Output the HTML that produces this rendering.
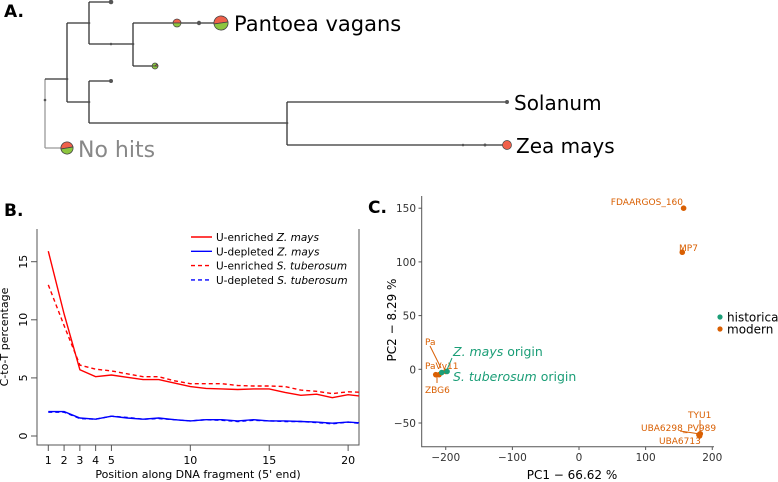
<!DOCTYPE html>
<html><head><meta charset="utf-8">
<style>
html,body{margin:0;padding:0;background:#fff;}
svg{display:block;font-family:"DejaVu Sans","Liberation Sans",sans-serif;}
</style></head>
<body>
<svg width="778" height="482" viewBox="0 0 778 482" xmlns="http://www.w3.org/2000/svg">
<!-- Panel A: tree -->
<g>
<text x="4" y="17" font-size="17" font-weight="bold">A.</text>
<g stroke="#333" stroke-width="1.3" fill="none">
<path d="M45 79 V148" stroke="#999"/>
<path d="M45 148 H67" stroke="#999"/>
<path d="M45 79 H67 M67 23 V102 M67 23 H89 M89 2 V44 M89 2 H111 M89 44 H133 M133 23 V66 M133 23 H221 M133 66 H155 M67 102 H89 M89 81 V123 M89 81 H111 M89 123 H287 M287 102 V145 M287 102 H507 M287 145 H507"/>
</g>
<g fill="#555">
<circle cx="45" cy="100" r="1.3"/><circle cx="67" cy="79" r="1.3"/><circle cx="89" cy="23" r="1.3"/>
<circle cx="111" cy="2" r="2.3"/><circle cx="111" cy="44" r="1.3"/><circle cx="133" cy="44" r="1.3"/>
<circle cx="199" cy="23" r="2.2"/><circle cx="89" cy="102" r="1.3"/><circle cx="111" cy="81" r="2"/>
<circle cx="287" cy="123" r="1.3"/><circle cx="507" cy="102" r="2"/><circle cx="463" cy="145" r="1.3"/><circle cx="485" cy="145" r="1.5"/>
</g>
<g stroke="#444" stroke-width="0.8">
<path d="M214 24 A7 7 0 0 1 228 22 Z" fill="#f0604a"/><path d="M214 24 A7 7 0 0 0 228 22 Z" fill="#8dc63f"/>
</g>
<g stroke="#444" stroke-width="0.7">
<path d="M173 23 A4 4 0 0 1 181 23 Z" fill="#f0604a"/><path d="M173 23 A4 4 0 0 0 181 23 Z" fill="#8dc63f"/>
</g>
<g stroke="#444" stroke-width="0.7">
<path d="M152 66 A3 3 0 0 1 158 66 Z" fill="#8dc63f"/><path d="M152 66 A3 3 0 0 0 158 66 Z" fill="#8dc63f"/><path d="M155 66 L157 64 A3 3 0 0 1 158 66Z" fill="#f0604a"/>
</g>
<circle cx="507" cy="145" r="4.5" fill="#f0604a" stroke="#444" stroke-width="0.7"/>
<g stroke="#444" stroke-width="0.8">
<path d="M61 149 A6 6 0 0 1 73 147 Z" fill="#f0604a"/><path d="M61 149 A6 6 0 0 0 73 147 Z" fill="#8dc63f"/>
</g>
<text x="234" y="31" font-size="21" fill="#000">Pantoea vagans</text>
<text x="514" y="110" font-size="20" fill="#000">Solanum</text>
<text x="516" y="153" font-size="20" fill="#000">Zea mays</text>
<text x="78" y="157" font-size="22" fill="#888">No hits</text>
</g>

<!-- Panel B -->
<g id="panelB">
<text x="4" y="216" font-size="17" font-weight="bold">B.</text>
</g>
<!-- Panel C -->
<g id="panelC">
<text x="368" y="213" font-size="17" font-weight="bold">C.</text>
</g>
</svg>
<script>
// ---- Panel B data ----
const positions = [1,2,3,4,5,6,7,8,9,10,11,12,13,14,15,16,17,18,19,20,21];
const redSolid = [15.9,10.5,5.7,5.1,5.25,5.05,4.85,4.85,4.55,4.25,4.1,4.05,4.0,4.05,4.05,3.75,3.5,3.6,3.3,3.55,3.4];
const redDashed = [13.0,9.5,6.1,5.75,5.6,5.35,5.1,5.1,4.75,4.5,4.5,4.5,4.35,4.3,4.3,4.25,3.95,3.85,3.65,3.8,3.75];
const blueSolid = [2.1,2.1,1.55,1.45,1.7,1.55,1.45,1.55,1.4,1.3,1.4,1.4,1.3,1.4,1.3,1.3,1.25,1.2,1.1,1.2,1.1];
const blueDashed = [2.05,2.05,1.5,1.45,1.7,1.6,1.45,1.5,1.4,1.3,1.4,1.35,1.25,1.35,1.3,1.25,1.25,1.15,1.05,1.2,1.05];
const bXTicks = [1,2,3,4,5,10,15,20];
const bYTicks = [0,5,10,15];
// ---- Panel C data ----
const pcaLabels = ["FDAARGOS_160","MP7","Pa","PaVv11","ZBG6","TYU1","UBA6298_PV989","UBA6713"];
const pcaPC1 = [157,155,-215,-210,-200,182,180,181];
const pcaPC2 = [150,109,-5,-5,-2,-60,-61,-62];
const histLabels = ["Z. mays origin","S. tuberosum origin"];
const histPC1 = [-206,-198];
const histPC2 = [-3,-2];
const cXTicks = [-200,-100,0,100,200];
const cYTicks = [-50,0,50,100,150];

const NS="http://www.w3.org/2000/svg";
function mk(parent,tag,attrs,text){const e=document.createElementNS(NS,tag);for(const k in attrs)e.setAttribute(k,attrs[k]);if(text!==undefined)e.textContent=text;parent.appendChild(e);return e;}

// Panel B
const gB=document.getElementById('panelB');
const bx=p=>48.3+(p-1)*15.78;
const by=v=>436-v*11.62;
const defs=mk(gB,'defs',{});
const cp=mk(defs,'clipPath',{id:'clipB'});
mk(cp,'rect',{x:37,y:229,width:322,height:216});
let e;
e=mk(gB,'path',{d:'M37 229 V445 H359 V229',fill:'none',stroke:'#555','stroke-width':1});


bXTicks.forEach(t=>{
  e=mk(gB,'line',{x1:bx(t),x2:bx(t),y1:445,y2:451,stroke:'#555'});
  
  
  e=mk(gB,'text',{x:bx(t),y:464,'font-size':11,'text-anchor':'middle'},t);
  
  
});
bYTicks.forEach(t=>{
  e=mk(gB,'line',{x1:31,x2:37,y1:by(t),y2:by(t),stroke:'#555'});
  
  
  e=mk(gB,'text',{x:0,y:0,'font-size':11,'text-anchor':'middle',transform:`translate(27 ${by(t)}) rotate(-90)`},t);
  
  
});
e=mk(gB,'text',{x:198,y:478,'font-size':11,'text-anchor':'middle'},"Position along DNA fragment (5' end)");


e=mk(gB,'text',{x:0,y:0,'font-size':11,'text-anchor':'middle',transform:'translate(8 337) rotate(-90)'},'C-to-T percentage');


const seriesB=[[redSolid,'red',null,'line-u-enriched-z-mays'],[redDashed,'red','4 3','line-u-enriched-s-tuberosum'],[blueSolid,'blue',null,'line-u-depleted-z-mays'],[blueDashed,'blue','4 3','line-u-depleted-s-tuberosum']];
seriesB.forEach(s=>{
  const pts=s[0].map((v,i)=>bx(positions[i]).toFixed(1)+','+by(v).toFixed(1)).join(' ');
  const a={points:pts,fill:'none',stroke:s[1],'stroke-width':1.4,'clip-path':'url(#clipB)'};
  if(s[2])a['stroke-dasharray']=s[2];
  e=mk(gB,'polyline',a);
  
  
});
const legB=[['red',null,'U-enriched ','Z. mays'],['blue',null,'U-depleted ','Z. mays'],['red','4 3','U-enriched ','S. tuberosum'],['blue','4 3','U-depleted ','S. tuberosum']];
legB.forEach((l,i)=>{
  const y=237+i*14.3;
  const a={x1:191,x2:212,y1:y,y2:y,stroke:l[0],'stroke-width':1.4};
  if(l[1])a['stroke-dasharray']=l[1];
  e=mk(gB,'line',a);
  
  
  const t=mk(gB,'text',{x:216,y:y+4,'font-size':10.5});
  
  
  mk(t,'tspan',{},l[2]);mk(t,'tspan',{'font-style':'italic'},l[3]);
});

// Panel C
const gC=document.getElementById('panelC');
const cx=v=>579+v*0.6663;
const cy=v=>369.3-v*1.074;
const OR='#d95f02', GR='#1b9e77';
e=mk(gC,'path',{d:'M421.7 196 V446.7 H714',fill:'none',stroke:'#555','stroke-width':1});


cXTicks.forEach(t=>{
  e=mk(gC,'line',{x1:cx(t),x2:cx(t),y1:446.7,y2:450,stroke:'#555'});
  
  
  e=mk(gC,'text',{x:cx(t),y:461,'font-size':10.5,'text-anchor':'middle',fill:'#333'},t<0?'\u2212'+(-t):t);
  
  
});
cYTicks.forEach(t=>{
  e=mk(gC,'line',{x1:418.5,x2:421.7,y1:cy(t),y2:cy(t),stroke:'#555'});
  
  
  e=mk(gC,'text',{x:416,y:cy(t)+4,'font-size':10.5,'text-anchor':'end',fill:'#333'},t<0?'\u2212'+(-t):t);
  
  
});
e=mk(gC,'text',{x:572,y:479,'font-size':12,'text-anchor':'middle'},'PC1 \u2212 66.62 %');


e=mk(gC,'text',{x:0,y:0,'font-size':12,'text-anchor':'middle',transform:'translate(396 320) rotate(-90)'},'PC2 \u2212 8.29 %');


const labelPos=[[683,205,'end'],[679,251,'start'],[425,345,'start'],[425,369,'start'],[425,393,'start'],[688,418,'start'],[641,431,'start'],[659,444,'start']];
const leaders=[null,null,[430,346,441,368],null,[437,383,437,375],[700,420,700,432],[680,431,700,434],null];
pcaLabels.forEach((lab,i)=>{
  if(leaders[i]){
    e=mk(gC,'line',{x1:leaders[i][0],y1:leaders[i][1],x2:leaders[i][2],y2:leaders[i][3],stroke:OR,'stroke-width':1});
    
    
  }
  e=mk(gC,'circle',{cx:cx(pcaPC1[i]),cy:cy(pcaPC2[i]),r:2.8,fill:OR});
  
  
  e=mk(gC,'text',{x:labelPos[i][0],y:labelPos[i][1],'font-size':9,fill:OR,'text-anchor':labelPos[i][2]},lab);
  
  
});
e=mk(gC,'line',{x1:452,y1:358,x2:446,y2:372,stroke:GR,'stroke-width':1});


const histPos=[[453,356],[453,381]];
histLabels.forEach((lab,i)=>{
  e=mk(gC,'circle',{cx:cx(histPC1[i]),cy:cy(histPC2[i]),r:2.8,fill:GR});
  
  
  const parts=lab.split(' origin');
  const t=mk(gC,'text',{x:histPos[i][0],y:histPos[i][1],'font-size':12.5,fill:GR});
  
  
  mk(t,'tspan',{'font-style':'italic'},parts[0]);mk(t,'tspan',{},' origin');
});
[['historical',GR,317],['modern',OR,329]].forEach(l=>{
  e=mk(gC,'circle',{cx:720,cy:l[2],r:2.6,fill:l[1]});
  
  
  e=mk(gC,'text',{x:727,y:l[2]+4.5,'font-size':12},l[0]);
  
  
});
</script>
</body></html>
